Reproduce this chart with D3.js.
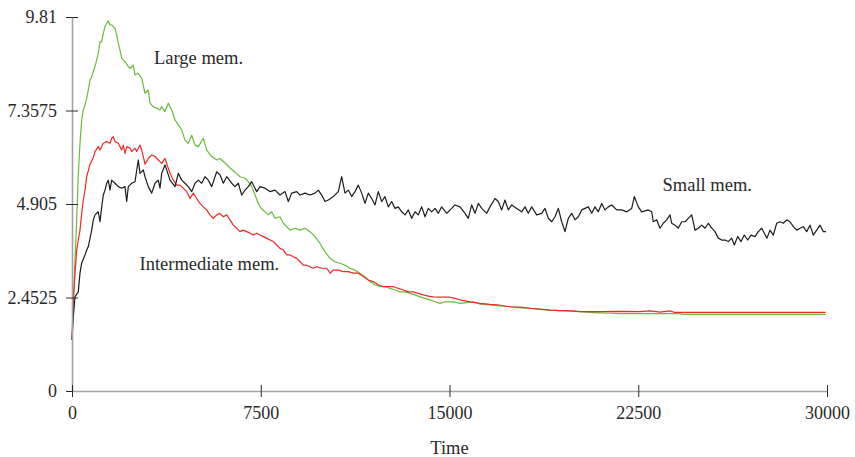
<!DOCTYPE html>
<html>
<head>
<meta charset="utf-8">
<script src="https://cdn.jsdelivr.net/npm/d3@7"></script>
<style>
  html, body { margin: 0; padding: 0; background: #ffffff; }
  svg { display: block; }
  text { font-family: "Liberation Serif", "Times New Roman", serif; fill: #2a2a2a; }
</style>
</head>
<body>
<svg id="chart" width="855" height="457"></svg>
<script>
// ---- data ----
const xTickValues = [0, 7500, 15000, 22500, 30000];
const xTickLabels = ["0", "7500", "15000", "22500", "30000"];
const yTickValues = [0, 2.4525, 4.905, 7.3575, 9.81];
const yTickLabels = ["0", "2.4525", "4.905", "7.3575", "9.81"];
const seriesNames = ["Large mem.", "Intermediate mem.", "Small mem."];

const smallTime = [0,52,119,250,318,385,517,584,648,783,847,914,1045,1113,1180,1244,1311,1379,1442,1510,1577,1709,1840,1975,2106,2174,2237,2372,2503,2634,2702,2833,2901,3032,3167,3298,3429,3497,3564,3695,3763,3894,4093,4224,4359,4490,4621,4756,4887,5019,5154,5285,5416,5551,5750,5881,6012,6147,6346,6477,6608,6743,6874,7005,7140,7339,7470,7669,7868,8066,8265,8464,8595,8730,8929,9060,9258,9457,9656,9787,9922,10053,10184,10383,10581,10716,10847,10979,11114,11245,11376,11511,11642,11773,11909,12040,12171,12306,12437,12568,12703,12834,12965,13101,13232,13363,13498,13629,13760,13895,14027,14158,14293,14424,14555,14690,14889,15088,15219,15417,15616,15747,15882,16013,16145,16280,16478,16609,16808,16939,17074,17205,17336,17472,17670,17869,18000,18131,18266,18465,18664,18795,18926,19061,19192,19323,19458,19589,19721,19856,19987,20118,20253,20384,20515,20651,20782,20913,21048,21179,21310,21445,21644,21843,22041,22240,22343,22502,22637,22899,23035,23098,23233,23364,23495,23630,23761,23829,23960,24091,24226,24358,24489,24624,24755,24886,25021,25153,25284,25419,25550,25681,25816,25947,26078,26213,26317,26452,26583,26714,26849,26980,27139,27270,27405,27508,27616,27735,27866,28001,28132,28264,28399,28530,28661,28796,28927,29058,29193,29325,29456,29591,29722,29853,29960];
const smallValue = [1.34,1.95,2.47,2.60,3.10,3.36,3.57,3.70,3.79,4.22,4.49,4.62,4.70,4.44,4.83,5.14,5.27,5.45,5.53,5.27,5.53,5.45,5.36,5.32,5.36,4.97,5.36,5.45,5.49,6.06,5.71,5.80,5.62,5.36,5.19,5.45,5.53,5.32,5.71,5.93,5.80,5.53,5.36,5.71,5.53,5.45,5.36,5.23,5.45,5.53,5.45,5.62,5.53,5.36,5.75,5.67,5.45,5.62,5.45,5.36,5.45,5.14,5.27,5.36,5.49,5.23,5.36,5.32,5.23,5.27,5.14,5.23,4.97,5.19,5.23,5.14,5.19,5.14,5.19,5.27,5.14,4.97,5.01,5.10,5.23,5.62,5.19,5.27,5.10,5.23,5.40,5.19,4.92,5.19,5.05,4.88,5.23,4.97,5.10,4.83,4.97,4.79,4.83,4.70,4.62,4.75,4.53,4.70,4.62,4.83,4.57,4.79,4.70,4.79,4.66,4.83,4.66,4.79,4.88,4.83,4.66,4.53,4.88,4.66,4.92,4.79,4.66,4.83,5.05,4.97,4.75,5.01,4.75,4.88,4.79,4.70,4.83,4.66,4.83,4.62,4.66,4.79,4.53,4.44,4.57,4.79,4.44,4.18,4.53,4.66,4.49,4.57,4.75,4.79,4.83,4.66,4.83,4.70,4.92,4.75,4.83,4.88,4.75,4.75,4.70,4.79,5.10,4.83,4.70,4.75,4.70,4.44,4.49,4.27,4.40,4.49,4.62,4.40,4.35,4.27,4.44,4.44,4.53,4.62,4.22,4.27,4.35,4.27,4.40,4.27,4.18,4.01,3.96,3.96,3.92,4.01,3.83,4.05,3.92,4.09,3.96,4.09,4.05,4.18,4.27,4.14,4.01,4.22,4.09,4.40,4.44,4.40,4.49,4.44,4.31,4.22,4.27,4.31,4.18,4.35,4.09,4.22,4.35,4.18,4.18];

const largeTime = [0,60,119,187,250,318,385,449,517,584,648,715,783,846,914,981,1045,1113,1180,1244,1311,1379,1442,1510,1577,1641,1709,1776,1840,1907,1975,2106,2237,2305,2436,2503,2634,2770,2901,3032,3099,3230,3366,3497,3564,3695,3826,3962,4093,4224,4359,4490,4621,4756,4887,5019,5217,5352,5551,5750,5881,6080,6278,6477,6675,6874,7005,7140,7272,7403,7510,7669,7800,7935,8066,8265,8396,8531,8662,8861,9060,9258,9457,9656,9855,10053,10252,10450,10649,10848,11046,11245,11444,11642,11841,12040,12238,12437,12636,12834,13033,13232,13430,13629,13828,14027,14225,14424,14622,14821,15020,15219,15417,15683,15946,16212,16609,17006,17404,17801,18199,18596,18993,19391,19788,20185,20583,20980,21377,21775,22569,24159,24238,29950];
const largeValue = [1.34,2.39,3.44,4.49,5.67,6.50,7.11,7.37,7.50,7.68,7.90,8.16,8.24,8.38,8.51,8.68,8.86,9.16,9.16,9.38,9.56,9.64,9.71,9.60,9.60,9.56,9.51,9.34,9.12,8.94,8.73,8.64,8.51,8.46,8.55,8.29,8.33,8.20,7.81,7.90,7.55,7.46,7.42,7.37,7.46,7.33,7.55,7.37,7.11,6.98,6.85,6.58,6.50,6.71,6.45,6.41,6.63,6.32,6.15,6.06,6.10,5.98,5.85,5.74,5.62,5.58,5.49,5.36,5.14,4.92,4.80,4.70,4.62,4.70,4.53,4.57,4.40,4.31,4.22,4.27,4.22,4.27,4.18,4.05,3.87,3.65,3.48,3.39,3.35,3.30,3.22,3.17,3.09,3.00,2.87,2.78,2.74,2.74,2.69,2.65,2.60,2.60,2.56,2.52,2.47,2.43,2.39,2.34,2.30,2.34,2.34,2.33,2.30,2.32,2.34,2.28,2.26,2.23,2.21,2.18,2.17,2.14,2.12,2.11,2.10,2.08,2.06,2.05,2.04,2.03,2.03,2.03,2.01,2.01];

const interTime = [0,52,119,187,250,318,385,449,517,584,715,846,914,1045,1113,1244,1379,1510,1577,1641,1709,1840,1907,1975,2038,2106,2174,2305,2372,2503,2571,2702,2770,2833,2901,3032,3167,3298,3429,3564,3695,3763,3826,3894,4025,4160,4291,4423,4558,4689,4820,4955,5086,5217,5352,5483,5615,5750,5881,6012,6147,6278,6409,6544,6675,6807,6942,7073,7204,7339,7470,7601,7737,7868,7999,8134,8265,8396,8531,8662,8793,8929,9060,9191,9326,9457,9588,9723,9922,10121,10252,10383,10581,10780,10979,11178,11376,11575,11773,11972,12171,12369,12568,12767,12965,13164,13363,13562,13760,13959,14158,14357,14622,15020,15219,15417,15815,16212,16609,17006,17404,17801,18199,18596,18993,19391,19788,20185,20980,21775,22569,22967,23364,23761,23960,24358,29950];
const interValue = [1.34,2.39,3.09,3.70,3.96,4.22,4.66,5.01,5.27,5.62,5.95,6.12,6.28,6.41,6.32,6.50,6.54,6.50,6.63,6.67,6.54,6.50,6.41,6.32,6.45,6.23,6.41,6.37,6.28,6.37,6.28,6.45,6.32,6.15,5.95,6.10,6.19,6.15,6.06,5.97,6.10,5.97,5.84,5.71,5.53,5.40,5.40,5.32,5.23,5.05,5.19,5.05,4.92,4.83,4.75,4.62,4.53,4.62,4.66,4.57,4.62,4.49,4.35,4.27,4.18,4.22,4.18,4.14,4.09,4.14,4.09,4.05,4.01,3.96,3.92,3.83,3.74,3.70,3.57,3.57,3.52,3.48,3.39,3.30,3.30,3.26,3.22,3.26,3.22,3.22,3.09,3.17,3.17,3.13,3.13,3.09,3.09,3.00,2.91,2.87,2.78,2.74,2.74,2.74,2.69,2.65,2.60,2.60,2.56,2.52,2.49,2.47,2.46,2.46,2.43,2.39,2.34,2.30,2.27,2.25,2.21,2.20,2.17,2.15,2.12,2.11,2.10,2.08,2.08,2.09,2.08,2.10,2.07,2.10,2.06,2.06,2.06];

// ---- drawing ----
const svg = d3.select("#chart");
const x = d3.scaleLinear().domain([0, 30000]).range([72, 827]);
const y = d3.scaleLinear().domain([0, 9.81]).range([391, 17]);

const line = d3.line().x(d => x(d[0])).y(d => y(d[1]));

const series = [
  { name: seriesNames[0], data: d3.zip(largeTime, largeValue), color: "#6cbb3c", label: [4000, 63.5], lx: 154 },
  { name: seriesNames[1], data: d3.zip(interTime, interValue), color: "#ee2a24", label: null, lx: 139 },
  { name: seriesNames[2], data: d3.zip(smallTime, smallValue), color: "#1c1c1c", label: null, lx: 662 }
];

series.forEach(s => {
  svg.append("path")
    .datum(s.data)
    .attr("fill", "none")
    .attr("stroke", s.color)
    .attr("stroke-width", 1.2)
    .attr("stroke-linejoin", "round")
    .attr("d", line);
});

// Axes
const xAxis = d3.axisBottom(x)
  .tickValues(xTickValues)
  .tickFormat((d, i) => xTickLabels[i])
  .tickSizeInner(6).tickSizeOuter(0).tickPadding(9);
const gx = svg.append("g").attr("transform", `translate(0,${y(0)})`).call(xAxis);
gx.select(".domain").attr("stroke", "#a3a3a3").attr("stroke-width", 1.6);
gx.selectAll(".tick line").attr("y1", -6).attr("stroke", "#2a2a2a");
gx.selectAll(".tick text").attr("font-size", 18).attr("font-family", "Liberation Serif").attr("fill", "#2a2a2a");

const yAxis = d3.axisLeft(y)
  .tickValues(yTickValues)
  .tickFormat((d, i) => yTickLabels[i])
  .tickSizeInner(6).tickSizeOuter(0).tickPadding(9);
const gy = svg.append("g").attr("transform", `translate(${x(0)},0)`).call(yAxis);
gy.select(".domain").attr("stroke", "#a3a3a3").attr("stroke-width", 1.6);
gy.selectAll(".tick line").attr("x1", 6).attr("stroke", "#2a2a2a");
gy.selectAll(".tick text").attr("font-size", 18).attr("font-family", "Liberation Serif").attr("fill", "#2a2a2a");
gx.raise();

// Series labels
const labelPos = [[154, 63.5], [139.5, 269.5], [662.5, 190.5]];
seriesNames.forEach((n, i) => {
  svg.append("text")
    .attr("x", labelPos[i][0]).attr("y", labelPos[i][1])
    .attr("font-size", 18.5)
    .text(n);
});

// Axis title
svg.append("text")
  .attr("x", (x(0) + x(30000)) / 2).attr("y", 454)
  .attr("text-anchor", "middle")
  .attr("font-size", 18.5)
  .text("Time");
</script>
</body>
</html>
